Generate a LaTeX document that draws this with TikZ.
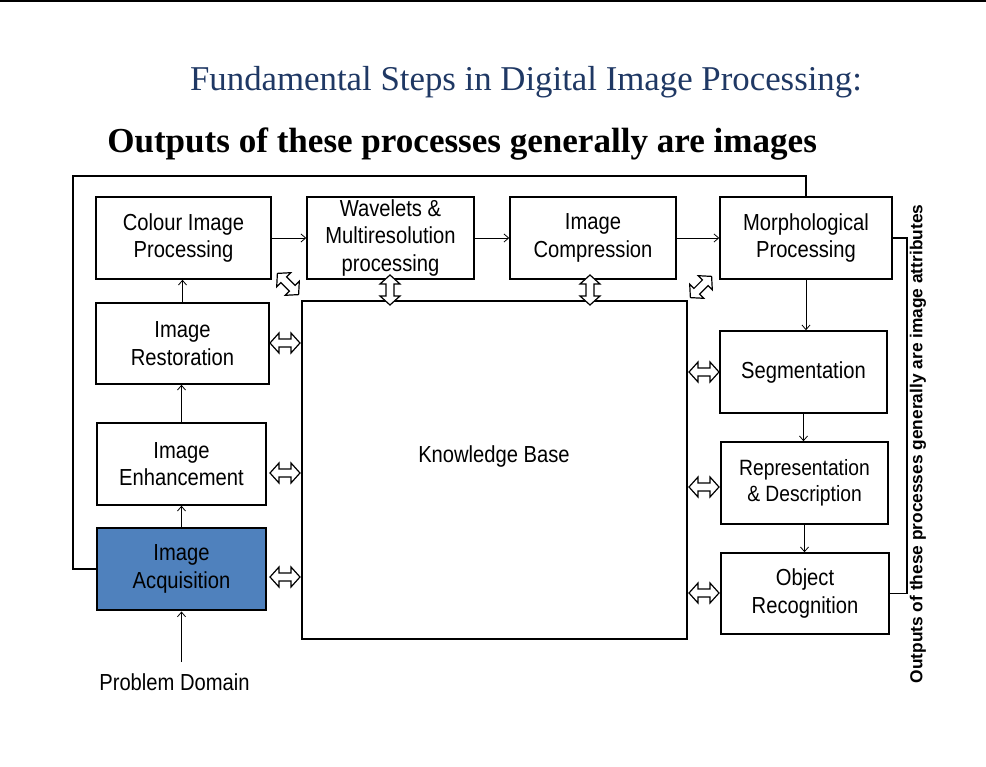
\documentclass[tikz,border=0pt]{standalone}
\usepackage{fontspec}
\setmainfont{Liberation Serif}
\newfontfamily\boxfont[FakeStretch=0.87]{Liberation Sans}
\newfontfamily\sidefont{Liberation Sans}
\usetikzlibrary{arrows.meta}
\definecolor{titleblue}{RGB}{31,56,100}
\definecolor{acqblue}{RGB}{79,129,189}
\begin{document}
\begin{tikzpicture}[x=0.75pt,y=-0.75pt,
  box/.style={draw, line width=1.1pt, fill=white, align=center, inner sep=0pt,
    font=\boxfont\fontsize{17.4}{20.5}\selectfont},
  boxtext/.style={align=center, inner sep=0pt, font=\boxfont\fontsize{17.4}{20.5}\selectfont},
  conn/.style={line width=0.7pt, -{Straight Barb[length=3.5pt,width=6pt,line width=0.6pt]}},
  plain/.style={line width=0.8pt},
  dblarr/.pic={\draw[line width=0.9pt, fill=white, line join=miter]
    (-15,0) -- (-6,-10) -- (-6,-4) -- (6,-4) -- (6,-10) -- (15,0)
    -- (6,10) -- (6,4) -- (-6,4) -- (-6,10) -- cycle;}
]
\useasboundingbox (0,0) rectangle (986,767);
\fill (0,0) rectangle (986,2.5);

% titles
\node[anchor=base, inner sep=0pt, text=titleblue, font=\fontsize{26.1}{30}\selectfont] (t1)
  at (526,91) {Fundamental Steps in Digital Image Processing:};
\node[anchor=base west, inner sep=0pt, font=\bfseries\fontsize{26.3}{30}\selectfont] (t2)
  at (107,152) {Outputs of these processes generally are images};

% boxes
\node[box, minimum width=175*0.75pt, minimum height=82*0.75pt] (col) at (183.5,238) {Colour Image\\Processing};
\node[box, minimum width=167*0.75pt, minimum height=82*0.75pt] (wav) at (390.5,238) {Wavelets \&\\Multiresolution\\processing};
\node[box, minimum width=166*0.75pt, minimum height=82*0.75pt] (cmp) at (593,238) {Image\\Compression};
\node[box, minimum width=172*0.75pt, minimum height=82*0.75pt] (mor) at (806,238) {Morphological\\Processing};
\node[box, minimum width=173*0.75pt, minimum height=81*0.75pt] (res) at (182.5,343.5) {Image\\Restoration};
\node[box, minimum width=169*0.75pt, minimum height=82*0.75pt] (enh) at (181.5,464) {Image\\Enhancement};
\node[box, fill=acqblue, line width=2.2pt, minimum width=169*0.75pt, minimum height=82*0.75pt] (acq) at (181.5,569) {Image\\Acquisition};
\node[box, line width=2.2pt, minimum width=385*0.75pt, minimum height=338*0.75pt] (kb) at (494.5,470) {};
\node[boxtext] (kbt) at (494,456) {Knowledge Base};
\node[box, minimum width=167*0.75pt, minimum height=82*0.75pt] (seg) at (803.5,372) {Segmentation};
\node[box, minimum width=167*0.75pt, minimum height=82*0.75pt, font=\boxfont\fontsize{16.6}{19.5}\selectfont] (rep) at (804.5,483) {Representation\\\& Description};
\node[box, minimum width=168*0.75pt, minimum height=81*0.75pt] (obj) at (805,593.5) {Object\\Recognition};
\node[boxtext] (pd) at (174.5,682) {Problem Domain};

% arrows
\draw[conn] (col.east) -- (wav.west);
\draw[conn] (wav.east) -- (cmp.west);
\draw[conn] (cmp.east) -- (mor.west);
\draw[conn] (mor.south) -- (mor.south |- seg.north);
\draw[conn] (seg.south) -- (seg.south |- rep.north);
\draw[conn] (rep.south) -- (rep.south |- obj.north);
\draw[conn] (acq.north) -- (acq.north |- enh.south);
\draw[conn] (enh.north) -- (enh.north |- res.south);
\draw[conn] (res.north) -- (res.north |- col.south);
\coordinate (pdt) at (181.5,662);
\draw[conn] (pdt) -- (acq.south);

% feedback line
\coordinate (fb) at (73,176);
\draw[plain] (acq.west) -| (fb) -| (mor.north);

% bracket
\coordinate (brk) at (907,238);
\draw[plain] (mor.east) -- (brk) |- (obj.east);
\node[rotate=90, inner sep=0pt, font=\sidefont\bfseries\fontsize{13}{15}\selectfont] (side)
  at (918,444) {Outputs of these processes generally are image attributes};

% double block arrows
\pic[rotate=-45] at (288,284) {dblarr};
\pic[rotate=45] at (701,287) {dblarr};
\pic[rotate=90] at (390,290) {dblarr};
\pic[rotate=90] at (590,290) {dblarr};
\pic at (285,343) {dblarr};
\pic at (285,473) {dblarr};
\pic at (285,577) {dblarr};
\pic at (704,372) {dblarr};
\pic at (704,487) {dblarr};
\pic at (704,593) {dblarr};
\end{tikzpicture}
\end{document}
